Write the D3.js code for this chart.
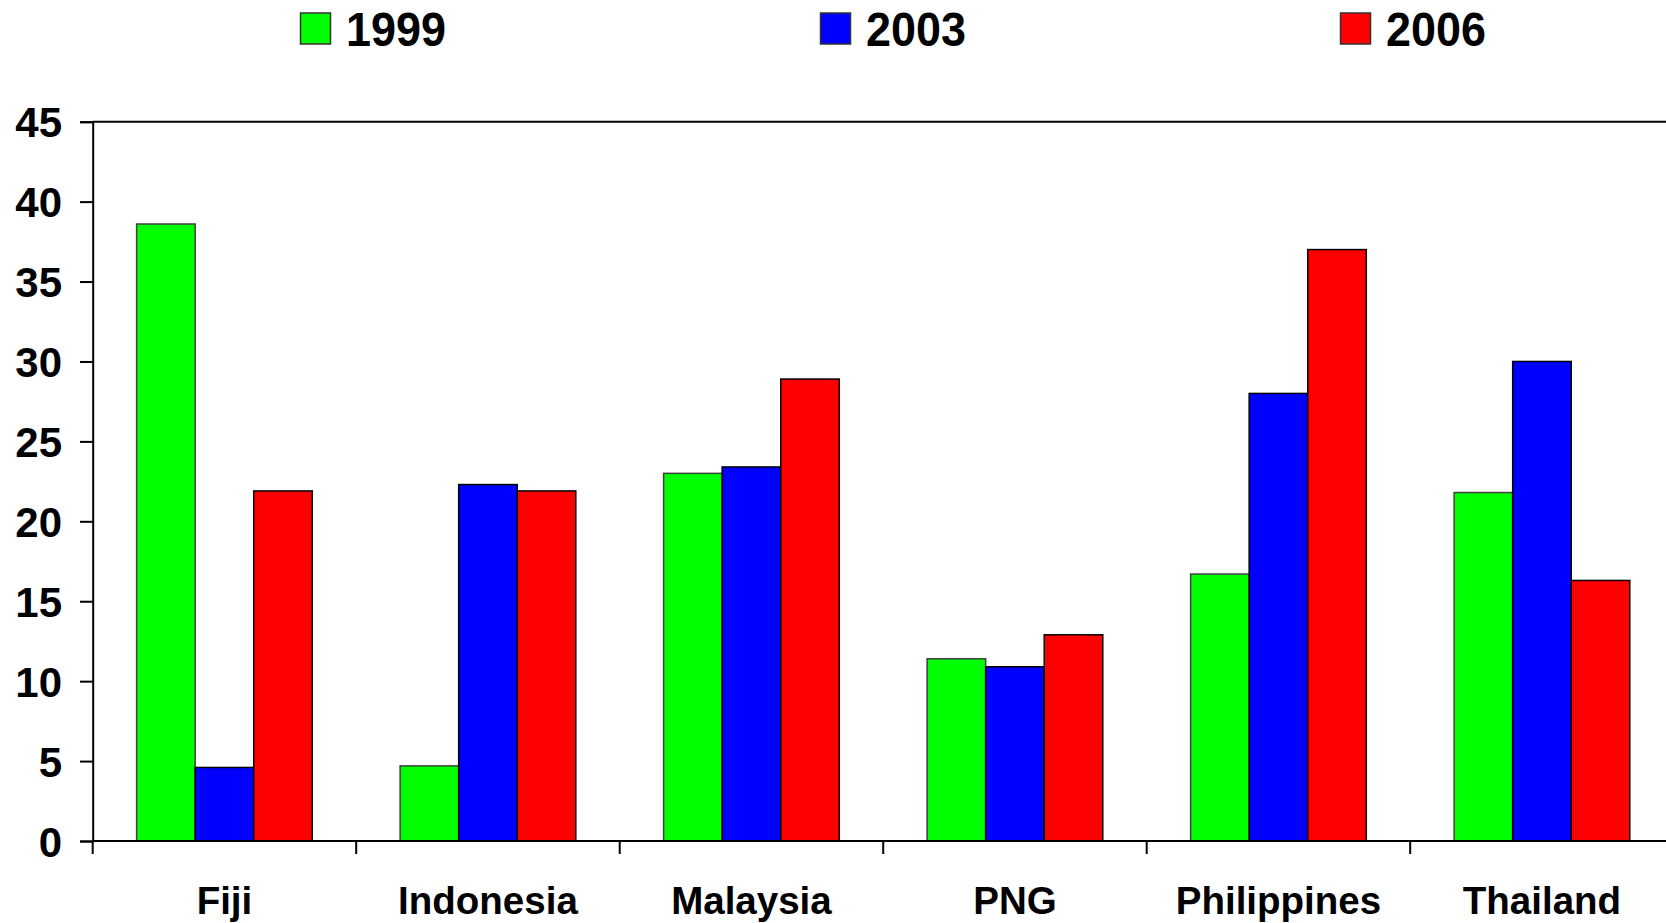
<!DOCTYPE html>
<html>
<head>
<meta charset="utf-8">
<script src="https://cdn.jsdelivr.net/npm/d3@7"></script>
<style>
  html, body { margin: 0; padding: 0; background: #fff; }
  svg { display: block; }
  text { font-family: "Liberation Sans", Arial, sans-serif; font-weight: bold; fill: #000; }
</style>
</head>
<body>
<svg id="chart" width="1666" height="923"></svg>
<script>
const categories = ["Fiji", "Indonesia", "Malaysia", "PNG", "Philippines", "Thailand"];
const seriesNames = ["1999", "2003", "2006"];
const values1999 = [38.6, 4.7, 23.0, 11.4, 16.7, 21.8];
const values2003 = [4.6, 22.3, 23.4, 10.9, 28.0, 30.0];
const values2006 = [21.9, 21.9, 28.9, 12.9, 37.0, 16.3];
const yTicks = [0, 5, 10, 15, 20, 25, 30, 35, 40, 45];
const colors = ["#00ff00", "#0000ff", "#ff0000"];
const strokes = ["#404040", "#000000", "#000000"];

const seriesValues = [values1999, values2003, values2006];

const svg = d3.select("#chart");
const mLeft = 92.7, mTop = 121.7, mBottom = 841;
const bandW = 263.5;
const mRight = mLeft + bandW * categories.length;

const x = d3.scaleBand().domain(categories).range([mLeft, mRight]).paddingInner(0).paddingOuter(0);
const barW = bandW / 4.5;
const xSub = d3.scaleBand().domain(seriesNames).range([0, barW * 3]);
const y = d3.scaleLinear().domain([0, 45]).range([mBottom, mTop]);

// Bars
seriesNames.forEach((s, si) => {
  svg.append("g").selectAll("rect")
    .data(categories.map((c, i) => ({ c, v: seriesValues[si][i] })))
    .join("rect")
    .attr("x", d => x(d.c) + barW * 0.75 + xSub(s))
    .attr("y", d => y(d.v))
    .attr("width", xSub.bandwidth())
    .attr("height", d => y(0) - y(d.v))
    .attr("fill", colors[si])
    .attr("stroke", strokes[si])
    .attr("stroke-width", 1.5);
});

// Top border of plot area
svg.append("line")
  .attr("x1", mLeft).attr("x2", 1666)
  .attr("y1", y(45)).attr("y2", y(45))
  .attr("stroke", "#000").attr("stroke-width", 2);

// Y axis
const yAxis = d3.axisLeft(y).tickValues(yTicks).tickSize(12.7).tickPadding(18).tickFormat(d3.format("d"));
const gy = svg.append("g").attr("transform", `translate(${mLeft},0)`).call(yAxis);
gy.select(".domain").attr("stroke", "#000").attr("stroke-width", 2);
gy.selectAll(".tick line").attr("stroke", "#000").attr("stroke-width", 2);
gy.selectAll(".tick text").attr("font-size", 42).attr("font-family", "Liberation Sans, Arial, sans-serif")
  .attr("font-weight", "bold").attr("fill", "#000").attr("dy", "0.36em");

// X axis
const xAxis = d3.axisBottom(x).tickSize(0).tickPadding(0).tickFormat("");
const gx = svg.append("g").attr("transform", `translate(0,${mBottom})`).call(xAxis);
gx.select(".domain").attr("stroke", "#000").attr("stroke-width", 2).attr("d", `M${mLeft},0H1680`);
gx.selectAll(".tick").remove();
// boundary ticks
gx.selectAll("line.bt")
  .data(categories)
  .join("line")
  .attr("class", "bt")
  .attr("x1", d => x(d)).attr("x2", d => x(d))
  .attr("y1", 0).attr("y2", 13)
  .attr("stroke", "#000").attr("stroke-width", 2);
// labels
gx.selectAll("text.cl")
  .data(categories)
  .join("text")
  .attr("class", "cl")
  .attr("x", d => x(d) + x.bandwidth() / 2)
  .attr("y", 72.5)
  .attr("text-anchor", "middle")
  .attr("font-size", 38.5)
  .text(d => d);

// Legend
const legend = svg.append("g");
const legX = d3.scalePoint().domain(seriesNames).range([300, 1340]);
seriesNames.forEach((s, si) => {
  const g = legend.append("g").attr("transform", `translate(${legX(s)},0)`);
  g.append("rect").attr("x", 0.5).attr("y", 13).attr("width", 30).attr("height", 31)
    .attr("fill", colors[si]).attr("stroke", "#333").attr("stroke-width", 1.5);
  g.append("text").attr("x", 46).attr("y", 45.5).attr("font-size", 49)
    .attr("textLength", 100).attr("lengthAdjust", "spacingAndGlyphs")
    .text(s);
});
</script>
</body>
</html>
